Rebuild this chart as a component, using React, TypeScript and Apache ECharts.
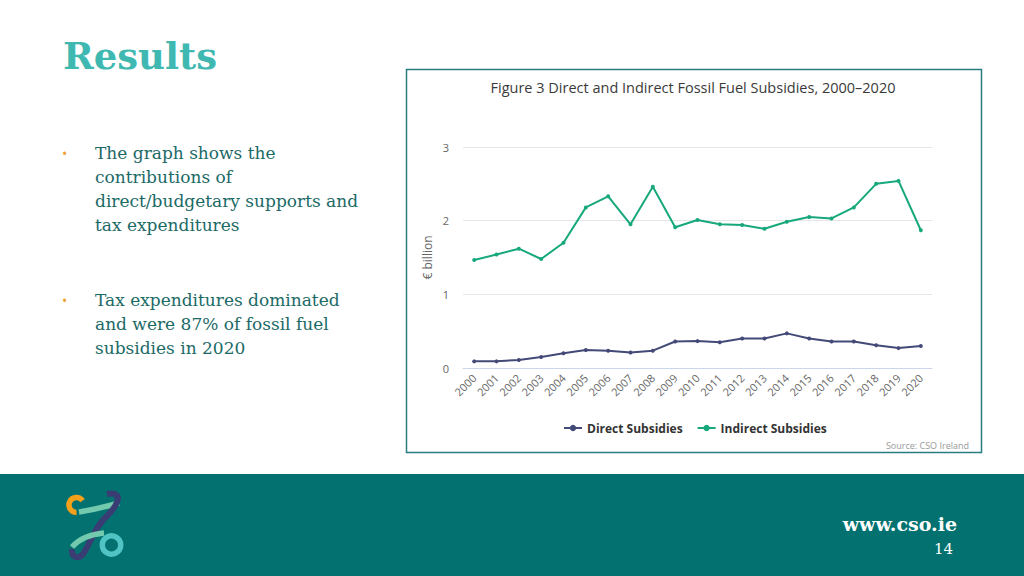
import React, { useEffect, useRef } from "react";
import * as echarts from "echarts";

const years = ["2000","2001","2002","2003","2004","2005","2006","2007","2008","2009","2010","2011","2012","2013","2014","2015","2016","2017","2018","2019","2020"];
const directSubsidies = [0.09,0.09,0.11,0.15,0.2,0.245,0.235,0.21,0.235,0.36,0.365,0.35,0.4,0.4,0.47,0.4,0.36,0.36,0.31,0.27,0.3];
const indirectSubsidies = [1.465,1.54,1.62,1.48,1.7,2.18,2.33,1.95,2.46,1.91,2.01,1.95,1.94,1.89,1.985,2.05,2.03,2.18,2.5,2.54,1.87];
const yTicks = [0, 1, 2, 3];
const seriesNames = ["Direct Subsidies", "Indirect Subsidies"];
const chartTitle = "Figure 3 Direct and Indirect Fossil Fuel Subsidies, 2000–2020";
const bullet1 = ["The graph shows the", "contributions of", "direct/budgetary supports and", "tax expenditures"];
const bullet2 = ["Tax expenditures dominated", "and were 87% of fossil fuel", "subsidies in 2020"];

export default function App() {
  const ref = useRef<HTMLDivElement>(null);
  useEffect(() => {
    if (!ref.current) return;
    const chart = echarts.init(ref.current, null, { renderer: "svg" });
    const serif = '"DejaVu Serif", serif';
    const sans = '"Open Sans", "DejaVu Sans", sans-serif';
    const textColor = "#1b6a66";
    const green = "#72c9ad";
    const navy = "#3a3c74";
    const option: any = {
      animation: false,
      backgroundColor: "#ffffff",
      title: {
        text: chartTitle,
        left: 688,
        textAlign: "center",
        top: 75,
        textStyle: { fontFamily: sans, fontSize: 14.5, fontWeight: "normal", color: "#3a3a3a" },
      },
      legend: {
        data: seriesNames,
        left: 558,
        top: 417,
        orient: "horizontal",
        itemWidth: 18,
        itemHeight: 8,
        itemGap: 14,
        textStyle: { fontFamily: sans, fontSize: 12, fontWeight: "bold", color: "#333333" },
      },
      grid: { left: 463, right: 1024 - 932, top: 147, bottom: 576 - 368, containLabel: false },
      xAxis: {
        type: "category",
        data: years,
        boundaryGap: true,
        axisLine: { lineStyle: { color: "#ccd6eb" } },
        axisTick: { show: false },
        axisLabel: { rotate: 45, margin: 8, fontFamily: sans, fontSize: 11, color: "#666666" },
      },
      yAxis: {
        type: "value",
        min: yTicks[0],
        max: yTicks[yTicks.length - 1],
        interval: 1,
        name: "€ billion",
        nameLocation: "middle",
        nameGap: 30,
        nameTextStyle: { fontFamily: sans, fontSize: 12, color: "#666666" },
        axisLine: { show: false },
        axisTick: { show: false },
        splitLine: { lineStyle: { color: "#e6e6e6" } },
        axisLabel: { margin: 14, fontFamily: sans, fontSize: 11, color: "#666666" },
      },
      series: [
        {
          name: seriesNames[0],
          type: "line",
          data: directSubsidies,
          symbol: "circle",
          symbolSize: 4,
          lineStyle: { width: 2, color: "#434a78" },
          itemStyle: { color: "#434a78" },
        },
        {
          name: seriesNames[1],
          type: "line",
          data: indirectSubsidies,
          symbol: "circle",
          symbolSize: 4,
          lineStyle: { width: 2, color: "#17a87c" },
          itemStyle: { color: "#17a87c" },
        },
      ],
      graphic: [
        { type: "rect", z: -10, shape: { x: 406.5, y: 69.5, width: 575, height: 383 }, style: { fill: "#ffffff", stroke: "#2b7c81", lineWidth: 1.5 } },
        { type: "text", style: { text: "Source: CSO Ireland", x: 969, y: 445, align: "right", verticalAlign: "middle", fontFamily: sans, fontSize: 9, fill: "#999999" } },
        { type: "text", style: { text: "Results", x: 63, y: 56, verticalAlign: "middle", fontFamily: serif, fontSize: 37, fontWeight: "bold", fill: "#3fb8b2" } },
        { type: "text", style: { text: "•", x: 62, y: 153, verticalAlign: "middle", fontFamily: sans, fontSize: 14, fill: "#f0a030" } },
        { type: "text", style: { text: "•", x: 62, y: 300, verticalAlign: "middle", fontFamily: sans, fontSize: 14, fill: "#f0a030" } },
        { type: "text", style: { text: bullet1.join("\n"), x: 95, y: 141, lineHeight: 24, verticalAlign: "top", fontFamily: serif, fontSize: 17, fill: textColor } },
        { type: "text", style: { text: bullet2.join("\n"), x: 95, y: 288, lineHeight: 24, verticalAlign: "top", fontFamily: serif, fontSize: 17, fill: textColor } },
        { type: "rect", shape: { x: 0, y: 474, width: 1024, height: 102 }, style: { fill: "#02716f" } },
        { type: "text", style: { text: "www.cso.ie", x: 957, y: 524, align: "right", verticalAlign: "middle", fontFamily: serif, fontSize: 19, fontWeight: "bold", fill: "#ffffff" } },
        { type: "text", style: { text: "14", x: 953, y: 549, align: "right", verticalAlign: "middle", fontFamily: serif, fontSize: 15, fill: "#ffffff" } },
        // logo
        { type: "bezierCurve", shape: { x1: 79, y1: 512, cpx1: 92, cpy1: 510, cpx2: 105, cpy2: 507, x2: 119, y2: 503 }, style: { stroke: green, lineWidth: 5.5, fill: null } },
        { type: "arc", shape: { cx: 76.5, cy: 505, r: 7.5, startAngle: Math.PI / 2, endAngle: Math.PI * 1.8, clockwise: true }, style: { stroke: "#f5a01a", lineWidth: 5.5, fill: null } },
        { type: "bezierCurve", shape: { x1: 107, y1: 494, cpx1: 123, cpy1: 491, cpx2: 121, cpy2: 503, x2: 103, y2: 520 }, style: { stroke: navy, lineWidth: 6, fill: null } },
        { type: "bezierCurve", shape: { x1: 103, y1: 520, cpx1: 92, cpy1: 533, cpx2: 88, cpy2: 548, x2: 83, y2: 554 }, style: { stroke: navy, lineWidth: 6, fill: null } },
        { type: "bezierCurve", shape: { x1: 83, y1: 554, cpx1: 78, cpy1: 560, cpx2: 71, cpy2: 557, x2: 72, y2: 549 }, style: { stroke: navy, lineWidth: 6, fill: null } },
        { type: "bezierCurve", shape: { x1: 72, y1: 547, cpx1: 80, cpy1: 538, cpx2: 92, cpy2: 534, x2: 104, y2: 533 }, style: { stroke: green, lineWidth: 5.5, fill: null } },
        { type: "circle", shape: { cx: 111.5, cy: 545, r: 9.2 }, style: { stroke: "#50c4c4", lineWidth: 5.5, fill: null } },
      ],
    };
    chart.setOption(option);
    return () => chart.dispose();
  }, []);
  return <div ref={ref} style={{ position: "fixed", left: 0, top: 0, width: 1024, height: 576 }} />;
}
